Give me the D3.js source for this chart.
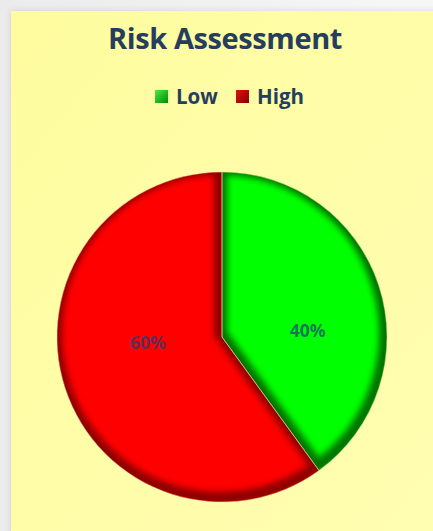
<!DOCTYPE html>
<html><head><meta charset="utf-8">
<script src="https://cdn.jsdelivr.net/npm/d3@7"></script>
<style>html,body{margin:0;padding:0;background:#fff;overflow:hidden}svg{display:block}</style>
</head><body>
<svg id="chart" width="433" height="531"></svg>
<script>
// ---- data ----
const chartTitle = "Risk Assessment";
const categories = ["Low", "High"];
const values = [40, 60];
const sliceColors = ["#00ff00", "#ff0000"];
const edgeColors = ["#006a00", "#860000"];
const legendTop = ["#44ee44", "#dd1111"];
const legendBottom = ["#008a00", "#8a0000"];

// ---- layout ----
const W = 433, H = 531;
const cx = 222, cy = 337, R = 165;
const textColor = "#263e5e";

const svg = d3.select("#chart");
const defs = svg.append("defs");

// background gradients
const bgG = defs.append("linearGradient").attr("id", "bgOuter").attr("x1", 0).attr("y1", 0).attr("x2", 1).attr("y2", 0);
bgG.append("stop").attr("offset", 0).attr("stop-color", "#ebebeb");
bgG.append("stop").attr("offset", 1).attr("stop-color", "#f7f7f7");
const yG = defs.append("linearGradient").attr("id", "bgYellow").attr("x1", 0).attr("y1", 0).attr("x2", 1).attr("y2", 1);
yG.append("stop").attr("offset", 0).attr("stop-color", "#fefc9e");
yG.append("stop").attr("offset", 1).attr("stop-color", "#fffeb2");

const shadow = defs.append("filter").attr("id", "boxShadow").attr("x", "-10%").attr("y", "-10%").attr("width", "130%").attr("height", "130%");
shadow.append("feDropShadow").attr("dx", 0).attr("dy", 0).attr("stdDeviation", 3).attr("flood-color", "#000").attr("flood-opacity", 0.12);

const blur = defs.append("filter").attr("id", "edgeBlur").attr("x", "-20%").attr("y", "-20%").attr("width", "140%").attr("height", "140%");
blur.append("feGaussianBlur").attr("stdDeviation", 3.4);

svg.append("rect").attr("width", W).attr("height", H).attr("fill", "url(#bgOuter)");
svg.append("rect").attr("x", 11).attr("y", 11).attr("width", W).attr("height", H)
  .attr("fill", "url(#bgYellow)").attr("filter", "url(#boxShadow)");

// title
svg.append("text").attr("x", 225).attr("y", 49).attr("text-anchor", "middle")
  .attr("font-family", "'Open Sans', sans-serif").attr("font-weight", 700).attr("font-size", 29)
  .attr("letter-spacing", -0.4)
  .attr("fill", textColor).text(chartTitle);

// legend
categories.forEach((c, i) => {
  const g = defs.append("linearGradient").attr("id", "leg" + i).attr("x1", 0).attr("y1", 0).attr("x2", 1).attr("y2", 1);
  g.append("stop").attr("offset", 0).attr("stop-color", legendTop[i]);
  g.append("stop").attr("offset", 1).attr("stop-color", legendBottom[i]);
});
const legend = svg.append("g").attr("font-family", "'Open Sans', sans-serif").attr("font-weight", 700)
  .attr("font-size", 20.5).attr("fill", textColor);
const legendX = [155, 236];
categories.forEach((c, i) => {
  legend.append("rect").attr("x", legendX[i]).attr("y", 90).attr("width", 13).attr("height", 13)
    .attr("fill", "url(#leg" + i + ")");
  legend.append("text").attr("x", legendX[i] + 21).attr("y", 104).text(c);
});

// pie
const pie = d3.pie().sort(null).value(d => d.v).startAngle(0).endAngle(2 * Math.PI);
const data = pie(categories.map((c, i) => ({ c, v: values[i], i })));
const arc = d3.arc().innerRadius(0).outerRadius(R);
const total = d3.sum(values);
const fmt = d3.format(".0%");

const pg = svg.append("g").attr("transform", `translate(${cx},${cy})`);
data.forEach((d, i) => {
  defs.append("clipPath").attr("id", "clip" + i).append("path").attr("d", arc(d))
    .attr("transform", `translate(${cx},${cy})`);
  pg.append("path").attr("d", arc(d)).attr("fill", sliceColors[i]);
  // bevel / inner edge darkening
  const e = svg.append("g").attr("clip-path", "url(#clip" + i + ")");
  e.append("path").attr("d", arc(d))
    .attr("transform", `translate(${cx - 1.5},${cy - 3.5})`)
    .attr("fill", "none").attr("stroke", edgeColors[i]).attr("stroke-width", 13)
    .attr("stroke-linejoin", "round")
    .attr("filter", "url(#edgeBlur)").attr("opacity", 0.95);
});
// thin separator highlight
svg.append("g").attr("transform", `translate(${cx},${cy})`).selectAll("path").data(data).join("path")
  .attr("d", arc).attr("fill", "none").attr("stroke", "#f4e8a0").attr("stroke-width", 0.8).attr("stroke-opacity", 0.6);

// labels
const labelShift = 0.24;
svg.append("g").attr("transform", `translate(${cx},${cy})`).selectAll("text").data(data).join("text")
  .attr("transform", d => {
    const a = (d.startAngle + d.endAngle) / 2 + labelShift;
    const r = R * (d.index === 0 ? 0.52 : 0.45);
    return `translate(${Math.sin(a) * r},${-Math.cos(a) * r})`;
  })
  .attr("text-anchor", "middle").attr("dy", "0.35em")
  .attr("font-family", "'Open Sans', sans-serif").attr("font-weight", 700).attr("font-size", 17.5)
  .attr("fill", "#1f3f7a").attr("fill-opacity", 0.72)
  .text(d => fmt(d.data.v / total));
</script>
</body></html>
